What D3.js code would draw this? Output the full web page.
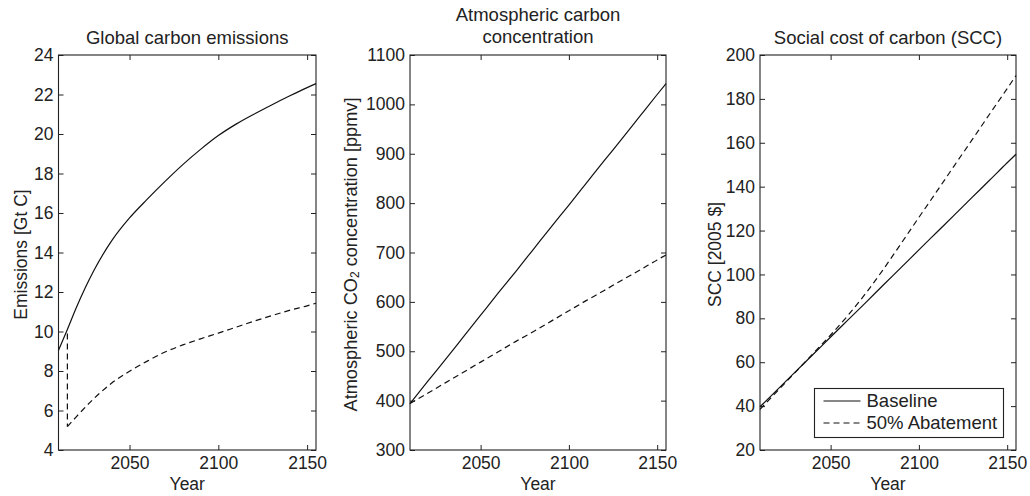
<!DOCTYPE html>
<html>
<head>
<meta charset="utf-8">
<script src="https://cdn.jsdelivr.net/npm/d3@7"></script>
<style>
body { margin: 0; background: #fff; }
text { font-family: "Liberation Sans", Arial, sans-serif; fill: #222; }
</style>
</head>
<body>
<svg width="1030" height="496"></svg>
<script>
// Data ======================================================

var emisYears = [2010, 2015, 2020, 2025, 2030, 2040, 2050, 2060, 2070, 2080, 2090, 2100, 2110, 2120, 2130, 2140, 2150, 2155];
var emisBaseline = [9.05, 10.1, 11.2, 12.2, 13.1, 14.6, 15.75, 16.7, 17.6, 18.45, 19.22, 19.92, 20.5, 21.0, 21.47, 21.92, 22.35, 22.55];
// abatement drops at 2015, so the year repeats
var emisAbateYears = [2015, 2015, 2020, 2030, 2040, 2050, 2060, 2070, 2080, 2090, 2100, 2110, 2120, 2130, 2140, 2150, 2155];
var emisAbate = [9.9, 5.18, 5.68, 6.61, 7.39, 7.99, 8.5, 8.96, 9.32, 9.63, 9.92, 10.22, 10.52, 10.8, 11.07, 11.3, 11.43];

var decadeYears = [2010, 2020, 2030, 2040, 2050, 2060, 2070, 2080, 2090, 2100, 2110, 2120, 2130, 2140, 2150, 2155];
var concBaseline = [394, 439, 483, 528, 573, 618, 662, 707, 752, 796, 841, 886, 930, 975, 1020, 1042];
var concAbate = [394, 415, 436, 457, 478, 499, 520, 540, 561, 582, 603, 623, 644, 664, 685, 695];

var sccBaseline = [39.7, 47.6, 55.6, 63.5, 71.5, 79.4, 87.3, 95.3, 103.2, 111.2, 119.1, 127, 135, 142.9, 150.9, 154.8];
var sccAbate = [38.5, 47, 55.4, 63.9, 72.4, 81.5, 91.5, 102.5, 114.2, 126, 137.7, 149.5, 161.2, 173, 184.7, 190.6];

var xTicks = [2050, 2100, 2150];
var emisTicks = [4, 6, 8, 10, 12, 14, 16, 18, 20, 22, 24];
var concTicks = [300, 400, 500, 600, 700, 800, 900, 1000, 1100];
var sccTicks = [20, 40, 60, 80, 100, 120, 140, 160, 180, 200];

var legendLabels = ["Baseline", "50% Abatement"];

// globals ===================================================

var svg = d3.select("svg");
var fontSize = 17.5, bigFont = 18.5;
var plotTop = 55, plotBottom = 450;
var dash = "6,4";

var panels = [
  { left: 58.5, right: 316, title: ["Global carbon emissions"], ylab: "Emissions [Gt C]", ylabOff: 32,
    ydom: [4, 24], yticks: emisTicks,
    series: [ { x: emisYears, y: emisBaseline, dash: null }, { x: emisAbateYears, y: emisAbate, dash: dash } ] },
  { left: 410, right: 666, title: ["Atmospheric carbon", "concentration"], ylab: "co2", ylabOff: 53,
    ydom: [300, 1100], yticks: concTicks,
    series: [ { x: decadeYears, y: concBaseline, dash: null }, { x: decadeYears, y: concAbate, dash: dash } ] },
  { left: 760, right: 1016, title: ["Social cost of carbon (SCC)"], ylab: "SCC [2005 $]", ylabOff: 39,
    ydom: [20, 200], yticks: sccTicks, legend: true,
    series: [ { x: decadeYears, y: sccBaseline, dash: null }, { x: decadeYears, y: sccAbate, dash: dash } ] }
];

// Helpers ===================================================

// a repeated year means a vertical jump: cut the series there
function splitRuns(pts) {
  var runs = [[pts[0]]];
  for (var i = 1; i < pts.length; i++) {
    if (pts[i][0] == pts[i - 1][0]) runs.push([]);
    runs[runs.length - 1].push(pts[i]);
  }
  return runs;
}

function drawPanel(p) {
  var x = d3.scaleLinear().domain([2010, 2155]).range([p.left, p.right]);
  var y = d3.scaleLinear().domain(p.ydom).range([plotBottom, plotTop]);
  var g = svg.append("g");

  // ticks on all four sides, pointing in
  var axes = [
    { ax: d3.axisBottom(x).tickValues(xTicks).tickFormat(d3.format("d")), tr: "translate(0," + plotBottom + ")", lab: true, pad: 6.5 },
    { ax: d3.axisTop(x).tickValues(xTicks), tr: "translate(0," + plotTop + ")", lab: false, pad: 5 },
    { ax: d3.axisLeft(y).tickValues(p.yticks).tickFormat(d3.format("d")), tr: "translate(" + p.left + ",0)", lab: true, pad: 5 },
    { ax: d3.axisRight(y).tickValues(p.yticks), tr: "translate(" + p.right + ",0)", lab: false, pad: 5 }
  ];
  axes.forEach(function(a) {
    var ag = g.append("g").attr("transform", a.tr)
      .call(a.ax.tickSizeInner(-5).tickSizeOuter(0).tickPadding(a.pad));
    ag.select(".domain").remove();
    ag.selectAll(".tick line").attr("stroke", "#222");
    ag.attr("font-size", fontSize).attr("font-family", null);
    ag.selectAll("text").attr("fill", "#222");
    if (!a.lab) ag.selectAll("text").remove();
  });

  // frame
  g.append("rect")
    .attr("x", p.left).attr("y", plotTop)
    .attr("width", p.right - p.left).attr("height", plotBottom - plotTop)
    .attr("fill", "none").attr("stroke", "#222").attr("stroke-width", 1.1);

  var curved = d3.line()
    .x(function(d) { return x(d[0]); })
    .y(function(d) { return y(d[1]); })
    .curve(d3.curveMonotoneX);
  var straight = d3.line()
    .x(function(d) { return x(d[0]); })
    .y(function(d) { return y(d[1]); });

  p.series.forEach(function(s) {
    var runs = splitRuns(d3.zip(s.x, s.y));
    var d = "";
    runs.forEach(function(r, i) {
      if (i > 0) {
        var prev = runs[i - 1];
        d += straight([prev[prev.length - 1], r[0]]);
      }
      if (r.length > 1) d += curved(r);
    });
    g.append("path")
      .attr("d", d)
      .attr("fill", "none").attr("stroke", "#111").attr("stroke-width", 1.2)
      .attr("stroke-dasharray", s.dash);
  });

  // title
  var cx = (p.left + p.right) / 2;
  var ty = p.title.length == 1 ? 44 : 20.5;
  p.title.forEach(function(t, i) {
    g.append("text").attr("x", cx).attr("y", ty + i * 22.8)
      .attr("text-anchor", "middle").attr("font-size", bigFont).text(t);
  });

  // x label
  g.append("text").attr("x", cx).attr("y", 490)
    .attr("text-anchor", "middle").attr("font-size", fontSize).text("Year");

  // y label
  var yl = g.append("text")
    .attr("transform", "translate(" + (p.left - p.ylabOff) + "," + ((plotTop + plotBottom) / 2 + 2) + ") rotate(-90)")
    .attr("text-anchor", "middle").attr("font-size", fontSize);
  if (p.ylab == "co2") {
    yl.attr("font-size", 18.2);
    yl.append("tspan").text("Atmospheric CO");
    yl.append("tspan").attr("font-size", 12).attr("dy", 1.5).text("2");
    yl.append("tspan").attr("dy", -1.5).text(" concentration [ppmv]");
  } else {
    yl.text(p.ylab);
  }

  if (p.legend) drawLegend(g, p);
}

function drawLegend(g, p) {
  var lx = 814.5, ly = 388.5, lw = 189, lh = 49;
  g.append("rect").attr("x", lx).attr("y", ly).attr("width", lw).attr("height", lh)
    .attr("fill", "#fff").attr("stroke", "#222").attr("stroke-width", 1.1);
  legendLabels.forEach(function(lab, i) {
    var yy = ly + 12.5 + i * 22;
    g.append("line").attr("x1", lx + 9).attr("x2", lx + 46).attr("y1", yy).attr("y2", yy)
      .attr("stroke", "#111").attr("stroke-width", 1.2)
      .attr("stroke-dasharray", p.series[i].dash);
    g.append("text").attr("x", lx + 52).attr("y", yy).attr("dy", "0.35em")
      .attr("font-size", bigFont).text(lab);
  });
}

// Main ======================================================

panels.forEach(drawPanel);
</script>
</body>
</html>
